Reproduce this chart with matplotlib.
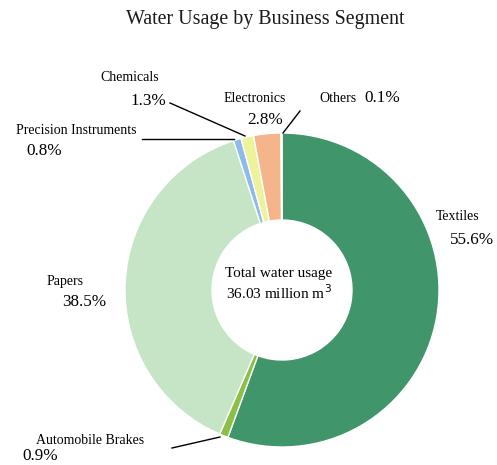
import matplotlib.pyplot as plt

plt.rcParams['font.family'] = ['Liberation Serif', 'DejaVu Serif']

segments = ['Textiles', 'Automobile Brakes', 'Papers', 'Precision Instruments',
            'Chemicals', 'Electronics', 'Others']
shares = [55.6, 0.9, 38.5, 0.8, 1.3, 2.8, 0.1]
colors = ['#40966a', '#8cc044', '#c6e4c6', '#8fbbe8', '#eef29a', '#f6b48a', '#d8d8d8']
total_usage = 36.03

H = 465  # work in pixel-like coords, y measured from the top


def yy(y):
    return H - y


fig = plt.figure(figsize=(4.97, 4.65), dpi=100)
ax = fig.add_axes([0, 0, 1, 1])

ax.pie(shares, colors=colors, startangle=90, counterclock=False,
       radius=157, center=(282, yy(290)),
       wedgeprops=dict(width=87, edgecolor='white', linewidth=1.0))
ax.set_xlim(0, 497)
ax.set_ylim(0, H)
ax.set_aspect('equal')
ax.axis('off')

ax.text(265, yy(20), 'Water Usage by Business Segment', fontsize=14.4,
        ha='center', va='center', color='#1a1a1a')

ax.text(279, yy(273), 'Total water usage', fontsize=11, ha='center', va='center')
ax.text(279, yy(293), f'{total_usage:.2f} million m$^3$', fontsize=11,
        ha='center', va='center')

# name / percentage label positions, top-left origin
label_pos = {
    'Textiles': ((458, 217), (472, 240)),
    'Automobile Brakes': ((90, 440), (40, 456)),
    'Papers': ((65, 282), (84, 302)),
    'Precision Instruments': ((76, 130), (44, 151)),
    'Chemicals': ((130, 78), (148, 101)),
    'Electronics': ((255, 98), (265, 120)),
}
for name, share in zip(segments, shares):
    if name not in label_pos:
        continue
    (nx, ny), (px, py) = label_pos[name]
    ax.text(nx, yy(ny), name, fontsize=10, ha='center', va='center')
    ax.text(px, yy(py), f'{share}%', fontsize=12.3, ha='center', va='center')

ax.text(319, yy(98), 'Others', fontsize=10, ha='left', va='center')
ax.text(364, yy(98), f'{shares[-1]}%', fontsize=12.3, ha='left', va='center')

# leader lines
leaders = [
    ((170, 103), (245, 136)),
    ((142, 139), (234, 139)),
    ((300, 111), (283, 133)),
    ((172, 448), (220, 437)),
]
for (x0, y0), (x1, y1) in leaders:
    ax.plot([x0, x1], [yy(y0), yy(y1)], color='black', linewidth=1)

fig.savefig('out.png', dpi=100)
